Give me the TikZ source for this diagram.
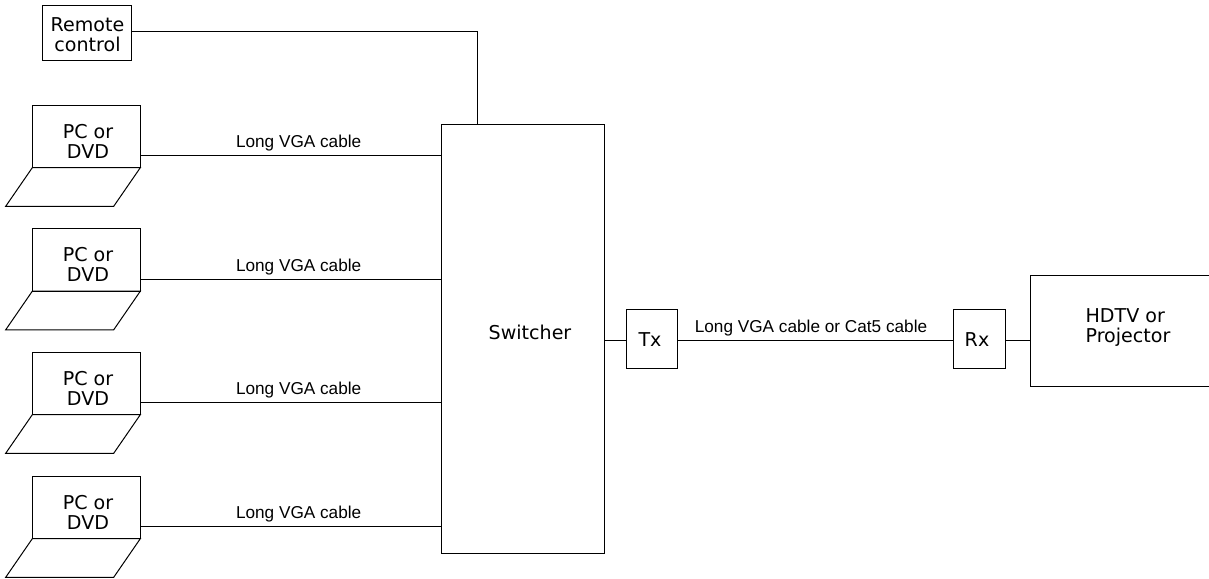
\documentclass[tikz,border=0pt]{standalone}
\usepackage{fontspec}
\setmainfont{Liberation Sans}
\newfontfamily\devfont{DejaVu Sans}
\tikzset{
  devbox/.style={draw, line width=0.75pt, inner sep=0pt, outer sep=0pt},
  screenbox/.style={devbox, minimum width=81pt, minimum height=46.8pt},
  linkbox/.style={devbox, minimum width=38.7pt, minimum height=44.25pt},
  devtext/.style={align=center, inner sep=0pt, font=\devfont\fontsize{14.3}{15}\selectfont},
  cabletext/.style={inner sep=0pt, font=\fontsize{12.9}{15}\selectfont},
  wire/.style={line width=0.75pt}
}
\begin{document}
\begin{tikzpicture}[x=0.75pt, y=-0.75pt]
        \useasboundingbox (0,0) rectangle (1209,578);

        % Draw remote control and switcher
        \node[devbox, minimum width=67.05pt, minimum height=41.25pt] (remote) at (87,32.5) {};
        \node[devtext] (remotelabel) at (87.5,34.5) {Remote\\control};
        \node[devbox, minimum width=122.25pt, minimum height=321.75pt] (switcher) at (522.5,338.5) {};
        \node[devtext] (switcherlabel) at (530,332) {Switcher};
        \coordinate (remotewire) at (477.5,31.7);
        \draw[wire] (remote.east |- remotewire) -- (remotewire) -- (remotewire |- switcher.north);

        % Draw laptops
        \foreach \n/\y in {1/136.5, 2/260, 3/383.5, 4/507.5} {
            \node[screenbox] (pc\n) at (86.3,\y) {};
            \node[devtext] (pclabel\n) at ([shift={(1.7,4.5)}]pc\n.center) {PC or\\DVD};
            \draw[wire] (pc\n.south west) -- (pc\n.south east) -- ++(-26.6,38.6) -- ++(-108,0) -- cycle;
            \coordinate (pcwire\n) at ([shift={(0,19)}]pc\n.east);
            \draw[wire] (pcwire\n) -- (pcwire\n -| switcher.west)
                node[cabletext, midway, xshift=6pt, yshift=9pt] (cable\n) {Long VGA cable};
        }

        % Draw transmitter, receiver and display
        \node[linkbox] (tx) at (651.8,338.5) {};
        \node[devtext] (txlabel) at (650,340) {Tx};
        \node[linkbox] (rx) at (979.5,338.5) {};
        \node[devtext] (rxlabel) at (977,340) {Rx};
        \node[devbox, minimum width=146.85pt, minimum height=82.7pt] (hdtv) at (1128,331) {};
        \node[devtext, align=left] (hdtvlabel) at (1128,328) {HDTV or\\Projector};
        \coordinate (signal) at (0,340.3);

        % Draw signal path
        \draw[wire] (switcher.east |- signal) -- (tx.west |- signal);
        \draw[wire] (tx.east |- signal) -- (rx.west |- signal);
        \draw[wire] (rx.east |- signal) -- (hdtv.west |- signal);
        \node[cabletext] (longcable) at (811,327.7) {Long VGA cable or Cat5 cable};
    \end{tikzpicture}
\end{document}
